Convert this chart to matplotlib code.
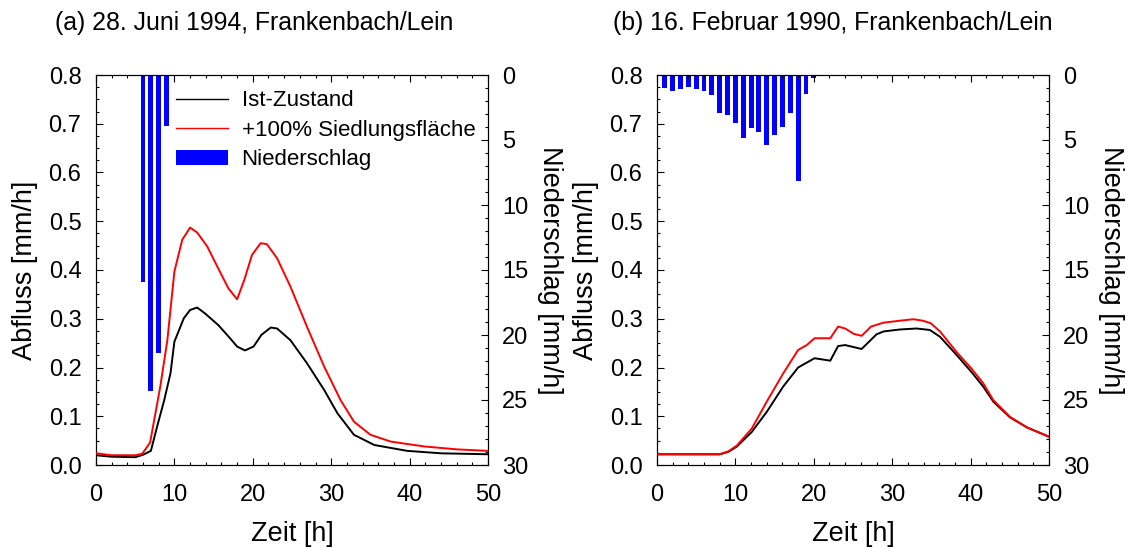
import matplotlib
matplotlib.use("Agg")
import matplotlib.pyplot as plt
from matplotlib.ticker import MultipleLocator, FormatStrFormatter
from matplotlib.patches import Patch
from matplotlib.lines import Line2D

plt.rcParams['font.family'] = ['Liberation Sans', 'DejaVu Sans']

# ---------------- data ----------------
titles = ["(a) 28. Juni 1994, Frankenbach/Lein", "(b) 16. Februar 1990, Frankenbach/Lein"]
legend_labels = ["Ist-Zustand", "+100% Siedlungsfläche", "Niederschlag"]

# (a) 28 June 1994
a_ist_t = [0, 2, 5, 6, 7, 7.8, 8.7, 9.5, 10.0, 11.2, 12.0, 12.9, 13.9, 15.6, 17.1, 18.0, 19.0,
           20.1, 21.1, 22.3, 23.1, 24.8, 26.9, 29.1, 30.8, 32.9, 35.5, 39.7, 44.0, 50.0]
a_ist_q = [0.020, 0.017, 0.016, 0.021, 0.029, 0.079, 0.133, 0.188, 0.253, 0.301, 0.318, 0.323,
           0.311, 0.287, 0.260, 0.243, 0.235, 0.243, 0.267, 0.282, 0.280, 0.256, 0.209, 0.154,
           0.106, 0.062, 0.041, 0.029, 0.024, 0.022]
a_sied_t = [0, 2, 5, 5.9, 6.9, 8.2, 9.1, 10.0, 11.0, 12.0, 12.9, 14.2, 15.6, 16.9, 18.0, 18.9,
            19.9, 21.0, 21.8, 23.1, 24.8, 26.9, 29.1, 31.2, 32.9, 35.0, 37.6, 41.9, 46.1, 50.0]
a_sied_q = [0.024, 0.020, 0.020, 0.023, 0.046, 0.161, 0.256, 0.397, 0.462, 0.487, 0.477, 0.448,
            0.403, 0.362, 0.340, 0.379, 0.431, 0.455, 0.453, 0.424, 0.366, 0.284, 0.202, 0.133,
            0.089, 0.062, 0.048, 0.038, 0.032, 0.029]
a_rain_t = [5, 6, 7, 8, 9]
a_rain_p = [0.1, 15.9, 24.3, 21.4, 3.9]

# (b) 16 February 1990
b_ist_t = [0, 8, 9.1, 10.2, 12.1, 14.0, 16.1, 18.0, 19.1, 20.1, 22.1, 23.1, 24.0, 26.1, 28.0,
           28.9, 31.0, 33.1, 34.8, 36.1, 38.2, 40.1, 41.6, 42.9, 45.0, 47.2, 50.0]
b_ist_q = [0.022, 0.022, 0.027, 0.038, 0.068, 0.109, 0.161, 0.200, 0.210, 0.219, 0.214, 0.244,
           0.246, 0.238, 0.268, 0.274, 0.278, 0.280, 0.277, 0.263, 0.226, 0.191, 0.161, 0.130,
           0.098, 0.077, 0.058]
b_sied_t = [0, 8, 9.1, 10.2, 12.1, 14.0, 16.1, 18.0, 19.1, 20.1, 22.1, 23.1, 24.0, 25.1, 26.1,
            27.3, 28.9, 31.0, 32.7, 33.9, 34.9, 36.1, 38.2, 40.1, 41.6, 42.9, 45.0, 47.2, 50.0]
b_sied_q = [0.022, 0.022, 0.028, 0.040, 0.075, 0.130, 0.188, 0.236, 0.246, 0.260, 0.260, 0.284,
            0.280, 0.269, 0.265, 0.284, 0.292, 0.296, 0.299, 0.296, 0.291, 0.274, 0.232, 0.198,
            0.168, 0.133, 0.099, 0.077, 0.058]
b_rain_t = list(range(1, 22))
b_rain_p = [1.0, 1.2, 1.05, 0.9, 1.05, 1.2, 1.55, 2.9, 3.1, 3.7, 4.85, 4.1, 4.35, 5.35, 4.6,
            4.0, 2.95, 8.15, 1.45, 0.2, 0.05]

panels = [
    (titles[0], a_ist_t, a_ist_q, a_sied_t, a_sied_q, a_rain_t, a_rain_p),
    (titles[1], b_ist_t, b_ist_q, b_sied_t, b_sied_q, b_rain_t, b_rain_p),
]

# ---------------- layout ----------------
W, H = 1128, 548
fig = plt.figure(figsize=(W / 100, H / 100), dpi=100)

ax_left_px = [96, 657]
ax_w_px = 392
ax_top_px, ax_bot_px = 75, 465
title_x_px = [55, 613]

TICK_FS = 17
LABEL_FS = 19.5
TITLE_FS = 17.9
LEG_FS = 16

for i, (title, it, iq, st, sq, rt, rp) in enumerate(panels):
    x0 = ax_left_px[i]
    ax = fig.add_axes([x0 / W, 1 - ax_bot_px / H, ax_w_px / W, (ax_bot_px - ax_top_px) / H])
    l_ist, = ax.plot(it, iq, color='black', lw=1.4, zorder=3)
    l_sied, = ax.plot(st, sq, color='red', lw=1.4, zorder=4)
    ax.set_xlim(0, 50)
    ax.set_ylim(0, 0.8)
    ax.xaxis.set_major_locator(MultipleLocator(10))
    ax.xaxis.set_minor_locator(MultipleLocator(2))
    ax.yaxis.set_major_locator(MultipleLocator(0.1))
    ax.yaxis.set_minor_locator(MultipleLocator(0.025))
    ax.yaxis.set_major_formatter(FormatStrFormatter('%.1f'))
    ax.tick_params(which='both', direction='in', top=True, right=False, width=0.8)
    ax.tick_params(which='major', length=5, labelsize=TICK_FS)
    ax.tick_params(which='minor', length=2.5)
    ax.tick_params(axis='x', which='major', pad=14)
    ax.tick_params(axis='y', which='major', pad=10.5)
    for s in ax.spines.values():
        s.set_linewidth(0.8)

    ax2 = ax.twinx()
    bars = ax2.bar(rt, rp, width=0.62, color='#0000ff', zorder=2)
    ax2.set_ylim(30, 0)
    ax2.yaxis.set_major_locator(MultipleLocator(5))
    ax2.yaxis.set_minor_locator(MultipleLocator(1))
    ax2.tick_params(which='both', direction='in', width=0.8)
    ax2.tick_params(which='major', length=5, labelsize=TICK_FS, pad=10)
    ax2.tick_params(which='minor', length=2.5)
    for s in ax2.spines.values():
        s.set_linewidth(0.8)
    ax.set_zorder(ax2.get_zorder() + 1)
    ax.patch.set_visible(False)

    # texts
    fig.text(title_x_px[i] / W, 1 - 23 / H, title, fontsize=TITLE_FS, ha='left', va='center')
    fig.text((x0 + ax_w_px / 2) / W, 1 - 534 / H, "Zeit [h]", fontsize=LABEL_FS,
             ha='center', va='center')
    fig.text((x0 - 71) / W, 1 - 270 / H, "Abfluss [mm/h]", fontsize=LABEL_FS,
             ha='center', va='center', rotation=90)
    fig.text((x0 + ax_w_px + 62) / W, 1 - 270 / H, "Niederschlag [mm/h]", fontsize=LABEL_FS,
             ha='center', va='center', rotation=270)

    if i == 0:
        handles = [Line2D([], [], color='black', lw=1.0),
                   Line2D([], [], color='red', lw=1.0),
                   Patch(facecolor='#0000ff', edgecolor='none')]
        ax.legend(handles, legend_labels, loc='upper left',
                  bbox_to_anchor=((176 - 96) / ax_w_px, (465 - 90.5) / 390),
                  frameon=False, fontsize=LEG_FS, borderaxespad=0, borderpad=0,
                  handlelength=2.35, handletextpad=0.6, labelspacing=0.38,
                  handleheight=0.7)

fig.savefig("out.png", dpi=100)
